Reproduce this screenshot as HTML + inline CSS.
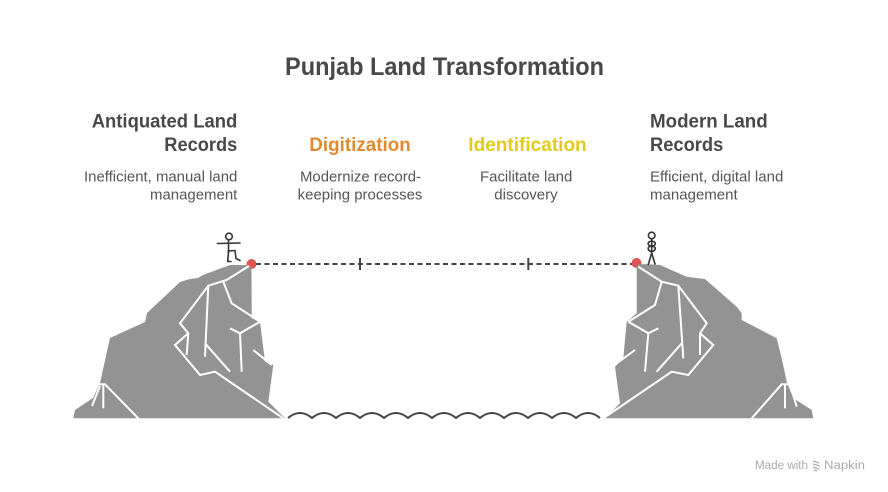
<!DOCTYPE html>
<html>
<head>
<meta charset="utf-8">
<style>
  html,body{margin:0;padding:0;background:#fff;}
  svg{display:block;}
  text{font-family:"Liberation Sans",Arial,sans-serif;}
</style>
</head>
<body>
<svg width="888" height="492" viewBox="0 0 888 492" xmlns="http://www.w3.org/2000/svg">
  <rect width="888" height="492" fill="#fff"/>

  <!-- Title -->
  <text x="285" y="75" font-size="25" font-weight="bold" fill="#484848" textLength="319" lengthAdjust="spacingAndGlyphs">Punjab Land Transformation</text>

  <!-- Headings -->
  <g font-weight="bold" font-size="19" fill="#484848">
    <text x="91.7" y="127.3" textLength="145.6" lengthAdjust="spacingAndGlyphs">Antiquated Land</text>
    <text x="164.3" y="151" textLength="73" lengthAdjust="spacingAndGlyphs">Records</text>
    <text x="309.3" y="151" textLength="101.4" lengthAdjust="spacingAndGlyphs" fill="#E38A2F">Digitization</text>
    <text x="468.3" y="151" textLength="118.4" lengthAdjust="spacingAndGlyphs" fill="#E2CB1D">Identification</text>
    <text x="650" y="127.3" textLength="117.7" lengthAdjust="spacingAndGlyphs">Modern Land</text>
    <text x="650" y="151" textLength="73.3" lengthAdjust="spacingAndGlyphs">Records</text>
  </g>
  <g font-size="14.5" fill="#555">
    <text x="84" y="181.7" textLength="153.3" lengthAdjust="spacingAndGlyphs">Inefficient, manual land</text>
    <text x="150" y="199.3" textLength="87.3" lengthAdjust="spacingAndGlyphs">management</text>
    <text x="300" y="181.7" textLength="121" lengthAdjust="spacingAndGlyphs">Modernize record-</text>
    <text x="297.7" y="199.3" textLength="124.7" lengthAdjust="spacingAndGlyphs">keeping processes</text>
    <text x="480" y="181.7" textLength="92.3" lengthAdjust="spacingAndGlyphs">Facilitate land</text>
    <text x="494.3" y="199.3" textLength="63.3" lengthAdjust="spacingAndGlyphs">discovery</text>
    <text x="650" y="181.7" textLength="133.3" lengthAdjust="spacingAndGlyphs">Efficient, digital land</text>
    <text x="650" y="199.3" textLength="87.7" lengthAdjust="spacingAndGlyphs">management</text>
  </g>

  <!-- Dashed connector -->
  <line x1="256" y1="264" x2="632" y2="264" stroke="#444" stroke-width="2" stroke-dasharray="5 3.5"/>
  <line x1="360" y1="258" x2="360" y2="270" stroke="#444" stroke-width="2"/>
  <line x1="528.3" y1="258" x2="528.3" y2="270" stroke="#444" stroke-width="2"/>

  <!-- Red dots -->
  <circle cx="251.5" cy="264" r="5" fill="#E05552"/>
  <circle cx="636.5" cy="263" r="5" fill="#E05552"/>

  <!-- Left cliff -->
  <polygon fill="#939393" points="73.3,418.3 75,410 93,398 100,383 110,338 145,322 147,313 180,282 190,279 198,278 203,275 230,265 248,265 251.5,268 251.7,318.3 260,321.7 265,361.7 273.3,365 268.3,401.7 285,418.3"/>
  <g stroke="#fff" stroke-width="2" fill="none">
    <polyline points="249,266 226.7,280 208.3,285.7 180,323.3 188.3,333.3 175,345 200,375 215,371.7 283.3,418.3"/>
    <polyline points="208.3,285.7 205,356.7"/>
    <polyline points="223.3,281.7 231.7,303.3 260,321.7"/>
    <polyline points="260,321.7 240,333.3 230,328.3"/>
    <polyline points="240,333.3 241.7,371.7"/>
    <polyline points="188.3,333.3 186.7,355"/>
    <polyline points="205,343.3 230,371.7"/>
    <polyline points="253.3,350 271.7,365"/>
    <polyline points="98.3,384.3 105,384.3 138.3,418.3"/>
    <polyline points="103.3,384.3 103.3,408.3"/>
    <polyline points="100,386 92,406"/>
  </g>

  <!-- Right cliff -->
  <polygon fill="#939393" points="636.7,267 638.3,264.3 648.3,264.3 660,265 686.7,276.7 705,279 736.7,306.7 741.7,313.3 741.7,320 776.7,338.3 781.7,358.3 786.7,381.7 793.3,398.3 811.7,410 813.3,418.3 605,418.3 620,403.3 615,366.7 623.3,358.3 626.7,321.7 636.7,313.3"/>
  <g stroke="#fff" stroke-width="2" fill="none">
    <polyline points="638.3,266.7 661.7,281.7 678.3,285.7 706.7,323.3 700,333.3 713.3,345 688.3,375 671.7,371.7 603.3,418.3"/>
    <polyline points="661.7,281.7 655,305 628.3,321.7"/>
    <polyline points="628.3,321.7 648.3,333.3 658.3,328.3"/>
    <polyline points="648.3,333.3 645,371.7"/>
    <polyline points="678.3,285.7 683.3,358.3"/>
    <polyline points="681.7,343.3 656.7,371.7"/>
    <polyline points="700,333.3 700,355"/>
    <polyline points="635,350 616.7,363.3"/>
    <polyline points="751.7,418.3 781.7,384.3 790,384.3"/>
    <polyline points="785,384.3 785,408.3"/>
    <polyline points="790,384.3 796.7,406.7"/>
  </g>

  <!-- Wave -->
  <path fill="none" stroke="#444" stroke-width="2" d="M288,418 q12,-10 24,0 q12,-10 24,0 q12,-10 24,0 q12,-10 24,0 q12,-10 24,0 q12,-10 24,0 q12,-10 24,0 q12,-10 24,0 q12,-10 24,0 q12,-10 24,0 q12,-10 24,0 q12,-10 24,0 q12,-10 24,0"/>

  <!-- Left person -->
  <g stroke="#333" stroke-width="1.6" fill="none" stroke-linecap="round" stroke-linejoin="round">
    <circle cx="229" cy="236.5" r="3.3"/>
    <line x1="217.5" y1="243.5" x2="240" y2="243"/>
    <line x1="228.5" y1="240" x2="228.5" y2="252"/>
    <polyline points="228.5,252 227.7,261.5 231,261.5"/>
    <polyline points="228.5,251 235,250.5 236,258.5 240,260.5"/>
  </g>

  <!-- Right person -->
  <g stroke="#333" stroke-width="1.6" fill="none" stroke-linecap="round" stroke-linejoin="round">
    <circle cx="651.7" cy="235.5" r="3.3"/>
    <line x1="651.7" y1="239" x2="651.7" y2="253"/>
    <path d="M651.7,241 q-5,1 -3,4 q2,2 3,0"/>
    <path d="M651.7,241 q5,1 3,4 q-2,2 -3,0"/>
    <path d="M651.7,246 q-5,1 -3,4 q2,2 3,1"/>
    <path d="M651.7,246 q5,1 3,4 q-2,2 -3,1"/>
    <line x1="651.7" y1="253" x2="648.3" y2="264.5"/>
    <line x1="651.7" y1="253" x2="655" y2="264"/>
  </g>

  <!-- Footer -->
  <text x="755" y="469" font-size="11.5" fill="#aaa" textLength="53" lengthAdjust="spacingAndGlyphs">Made with</text>
  <g stroke="#aaa" stroke-width="1.2" fill="none">
    <line x1="813" y1="461" x2="819" y2="463"/>
    <line x1="813" y1="464" x2="820" y2="466"/>
    <line x1="813" y1="467" x2="819" y2="469"/>
    <line x1="814" y1="470" x2="817" y2="471"/>
  </g>
  <text x="824" y="469" font-size="11.5" fill="#aaa" textLength="41" lengthAdjust="spacingAndGlyphs">Napkin</text>
</svg>
</body>
</html>
